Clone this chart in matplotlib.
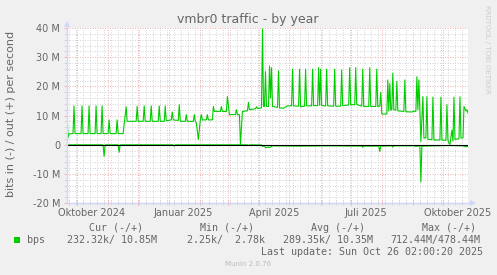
import matplotlib
matplotlib.use("Agg")
import matplotlib.pyplot as plt
import matplotlib.dates as mdates
import numpy as np
import pandas as pd
from matplotlib.patches import Rectangle
from matplotlib.lines import Line2D
from matplotlib.ticker import MultipleLocator, NullFormatter

# ---------------- data ----------------
start_date = "2024-09-21 02:00:20"
end_date = "2025-10-26 02:00:20"

# out (+) traffic, day offset from start_date -> Mbit/s
out_day = [0, 1, 2, 6, 7, 8, 14, 15, 16, 21, 22, 23, 28, 29, 30, 34, 35, 36, 41, 42, 43,
           49, 50, 51, 56, 57, 59, 60,
           69, 70, 71, 76, 77, 78, 83, 84, 85, 91, 92, 93, 97, 98, 99, 104, 105, 106,
           111, 112, 113, 118, 119, 120, 126, 127, 128, 129, 131, 133,
           134, 135, 139, 140, 141, 145, 146, 147, 153, 154, 155, 159, 160, 162, 168, 169,
           170, 172, 173, 175, 180, 181, 182, 188, 189, 190, 194, 195, 196, 197, 198, 199,
           201, 202, 203, 204, 205,
           210, 211, 212, 216, 220, 224, 225, 226, 231, 232, 233, 237, 238, 239, 244, 245,
           246, 250, 251, 252, 253, 254, 258, 259, 260, 266, 267, 268, 273, 274, 275, 281,
           282, 283, 287, 288, 289, 294, 295, 296, 301, 302, 303, 308, 309, 310, 312, 313,
           314,
           319, 320, 321, 322, 323, 324, 325, 326, 328, 329, 330, 336, 337, 338, 344, 346,
           348, 349, 350, 351, 353, 355, 356, 358, 359, 360, 364, 365, 366, 372, 373, 374,
           378, 379, 380, 381, 382, 384, 385, 386, 387, 391, 392, 393, 395, 396, 398, 399,
           400]
out_mbps = [12.0, 2.4, 3.7, 3.8, 13.3, 3.8, 3.8, 13.3, 3.8, 3.8, 13.3, 3.8, 3.8, 13.3, 3.8,
            3.8, 13.3, 3.8, 3.8, 8.5, 3.8,
            3.8, 8.5, 3.8, 3.8, 7.0, 13.0, 8.0,
            8.0, 13.1, 8.0, 8.0, 13.3, 8.0, 8.0, 13.3, 8.0, 8.0, 13.3, 8.0, 8.0, 13.3, 8.2,
            8.5, 11.2, 8.5,
            8.3, 13.7, 8.0, 8.0, 10.3, 8.0, 8.0, 10.3, 8.0, 7.5, 1.8, 8.5,
            10.3, 8.5, 8.5, 10.3, 8.5, 8.5, 13.1, 11.4, 11.4, 13.1, 11.4, 11.4, 16.5, 10.3,
            10.3, 12.0,
            10.3, 10.3, 0.0, 11.4, 11.6, 14.5, 12.0, 12.3, 13.0, 12.4, 12.6, 39.7, 13.1, 13.1,
            25.0, 13.1,
            13.1, 27.0, 16.0, 26.4, 13.1,
            12.8, 25.3, 12.6, 12.5, 13.3, 13.3, 25.9, 13.3, 13.2, 25.9, 13.0, 13.2, 25.9, 13.3,
            13.3, 25.9,
            13.4, 13.4, 26.4, 13.5, 25.9, 13.4, 13.3, 25.9, 13.3, 13.2, 25.9, 13.2, 13.2, 25.6,
            13.4, 13.6,
            26.4, 13.7, 13.7, 26.4, 13.8, 13.2, 25.9, 13.1, 13.1, 26.4, 13.1, 13.1, 25.9, 13.1,
            13.2, 18.0,
            10.5,
            10.5, 22.2, 11.5, 21.0, 11.8, 12.0, 24.5, 12.0, 11.8, 21.7, 11.6, 11.4, 22.2, 11.3,
            11.2, 11.5,
            11.4, 23.3, 12.0, 22.2, 1.1, 16.5, 2.3, 2.3, 16.5, 1.8, 1.7, 16.3, 1.6, 1.6, 16.3,
            1.6,
            1.5, 13.7, 1.5, 0.5, 0.1, 5.0, 1.2, 16.3, 1.8, 2.0, 16.4, 2.3, 2.3, 13.1, 11.5, 12.0,
            10.8]

# in (-) traffic, day offset -> Mbit/s (drawn below zero)
in_day = [0, 36, 37, 38, 51, 52, 53, 106, 107, 108, 180, 181, 182, 194, 195, 197, 198, 200,
          202, 205, 230, 262, 294, 295, 296, 311, 312, 313, 324, 325, 326, 346, 348, 352,
          353, 354, 380, 395, 397, 400]
in_mbps = [0.05, 0.05, 4.0, 0.05, 0.05, 2.6, 0.05, 0.05, 0.5, 0.05, 0.05, 0.3, 0.05, 0.1, 0.6,
           0.4, 1.1, 0.8, 1.0, 0.4, 0.5, 0.4, 0.5, 0.9, 0.5, 0.5, 2.3, 0.5, 0.4, 0.8, 0.4,
           0.4, 0.6, 0.4, 12.8, 0.5, 0.3, 0.4, 0.7, 0.6]

month_label_dates = ["2024-10-16", "2025-01-15", "2025-04-16", "2025-07-16", "2025-10-16"]
month_labels = ["Oktober 2024", "Januar 2025", "April 2025", "Juli 2025", "Oktober 2025"]
ytick_values_m = [-20, -10, 0, 10, 20, 30, 40]
ytick_labels = ["-20 M", "-10 M", "0", "10 M", "20 M", "30 M", "40 M"]

title = "vmbr0 traffic - by year"
ylabel = "bits in (-) / out (+) per second"
legend_name = "bps"
legend_headers = ["Cur (-/+)", "Min (-/+)", "Avg (-/+)", "Max (-/+)"]
legend_values = ["232.32k/ 10.85M", "2.25k/  2.78k", "289.35k/ 10.35M", "712.44M/478.44M"]
last_update = "Last update: Sun Oct 26 02:00:20 2025"
footer = "Munin 2.0.76"
side_mark = "RRDTOOL / TOBI OETIKER"

# ---------------- style ----------------
W, H = 497, 275
BG = "#F0F0F0"
FONT_C = "#666666"
GREEN = "#00CC00"
MGRID = "#F0B4B4"
GRID = "#D6D6D6"
AXIS_C = "#CFD6F8"


def fx(px):
    return px / W


def fy(py):
    return 1 - py / H


fig = plt.figure(figsize=(W / 100, H / 100), dpi=100, facecolor=BG)
ax = fig.add_axes([fx(67), 72 / H, 401 / W, 175 / H], facecolor="white")

t0 = pd.Timestamp(start_date)
t1 = pd.Timestamp(end_date)
out_t = (t0 + pd.to_timedelta(out_day, unit="D")).to_pydatetime()
in_t = (t0 + pd.to_timedelta(in_day, unit="D")).to_pydatetime()

ax.plot(out_t, np.array(out_mbps) * 1e6, color=GREEN, lw=0.8, zorder=2)
ax.plot(in_t, -np.array(in_mbps) * 1e6, color=GREEN, lw=0.8, zorder=2)
ax.axhline(0, color="black", lw=0.8, zorder=3)

ax.set_xlim(t0.to_pydatetime(), t1.to_pydatetime())
ax.set_ylim(-20e6, 40e6)

ax.set_yticks([v * 1e6 for v in ytick_values_m])
ax.set_yticklabels(ytick_labels)
ax.yaxis.set_minor_locator(MultipleLocator(2e6))

ax.xaxis.set_major_locator(mdates.MonthLocator())
ax.xaxis.set_minor_locator(mdates.WeekdayLocator(byweekday=mdates.MO))
ax.xaxis.set_major_formatter(NullFormatter())
ax.xaxis.set_minor_formatter(NullFormatter())

ax.set_axisbelow(True)
ax.grid(which="major", color=MGRID, lw=0.72, linestyle=(0, (1, 1.5)))
ax.grid(which="minor", color=GRID, lw=0.72, linestyle=(0, (1, 1.5)))

ax.tick_params(which="major", axis="both", length=2, width=0.72, color=MGRID,
               labelsize=7, labelcolor=FONT_C, pad=3)
ax.tick_params(which="minor", axis="both", length=2, width=0.72, color=GRID)
ax.tick_params(axis="x", which="both", direction="inout", length=3)

for s in ax.spines.values():
    s.set_visible(False)

# axis lines with arrows
ax.add_line(Line2D([0, 0], [0, 1.025], transform=ax.transAxes, color=AXIS_C, lw=1,
                   clip_on=False, zorder=4))
ax.add_line(Line2D([0, 1.012], [0, 0], transform=ax.transAxes, color=AXIS_C, lw=1,
                   clip_on=False, zorder=4))
ax.plot([0], [1.025], marker="^", ms=5, color=AXIS_C, transform=ax.transAxes,
        clip_on=False, zorder=4, mew=0)
ax.plot([1.012], [0], marker=">", ms=5, color=AXIS_C, transform=ax.transAxes,
        clip_on=False, zorder=4, mew=0)

# month labels
for d, lab in zip(month_label_dates, month_labels):
    ax.text(pd.Timestamp(d).to_pydatetime(), -10 / 175, lab, transform=ax.get_xaxis_transform(),
            ha="center", va="center", fontsize=7, color=FONT_C, clip_on=False)

# title and y label
fig.text(fx(248), fy(23), title, ha="center", va="baseline", fontsize=9, color=FONT_C)
fig.text(fx(11), fy(114), ylabel, ha="center", va="center", rotation=90, fontsize=8,
         color=FONT_C)
fig.text(fx(487), fy(5), side_mark, ha="center", va="top", rotation=270, fontsize=5,
         color="#CCCCCC")

# legend
mono = "DejaVu Sans Mono"
header_x = [115.8, 226.7, 338, 449]
for x, h in zip(header_x, legend_headers):
    fig.text(fx(x), fy(228), h, ha="center", va="center", fontsize=7.2, family=mono,
             color=FONT_C)
fig.patches.append(Rectangle((fx(14), fy(243)), 6 / W, 6 / H, transform=fig.transFigure,
                             facecolor=GREEN, edgecolor="none"))
fig.text(fx(26.7), fy(240), legend_name, ha="left", va="center", fontsize=7.2, family=mono,
         color=FONT_C)
value_x = [66.7, 186.7, 282.7, 390.7]
for x, v in zip(value_x, legend_values):
    fig.text(fx(x), fy(240), v, ha="left", va="center", fontsize=7.2, family=mono,
             color=FONT_C)
fig.text(fx(482.7), fy(252), last_update, ha="right", va="center", fontsize=7.2, family=mono,
         color=FONT_C)
fig.text(fx(248), fy(264), footer, ha="center", va="center", fontsize=5, color="#BBBBBB")

fig.savefig("out.png", dpi=100, facecolor=BG)
